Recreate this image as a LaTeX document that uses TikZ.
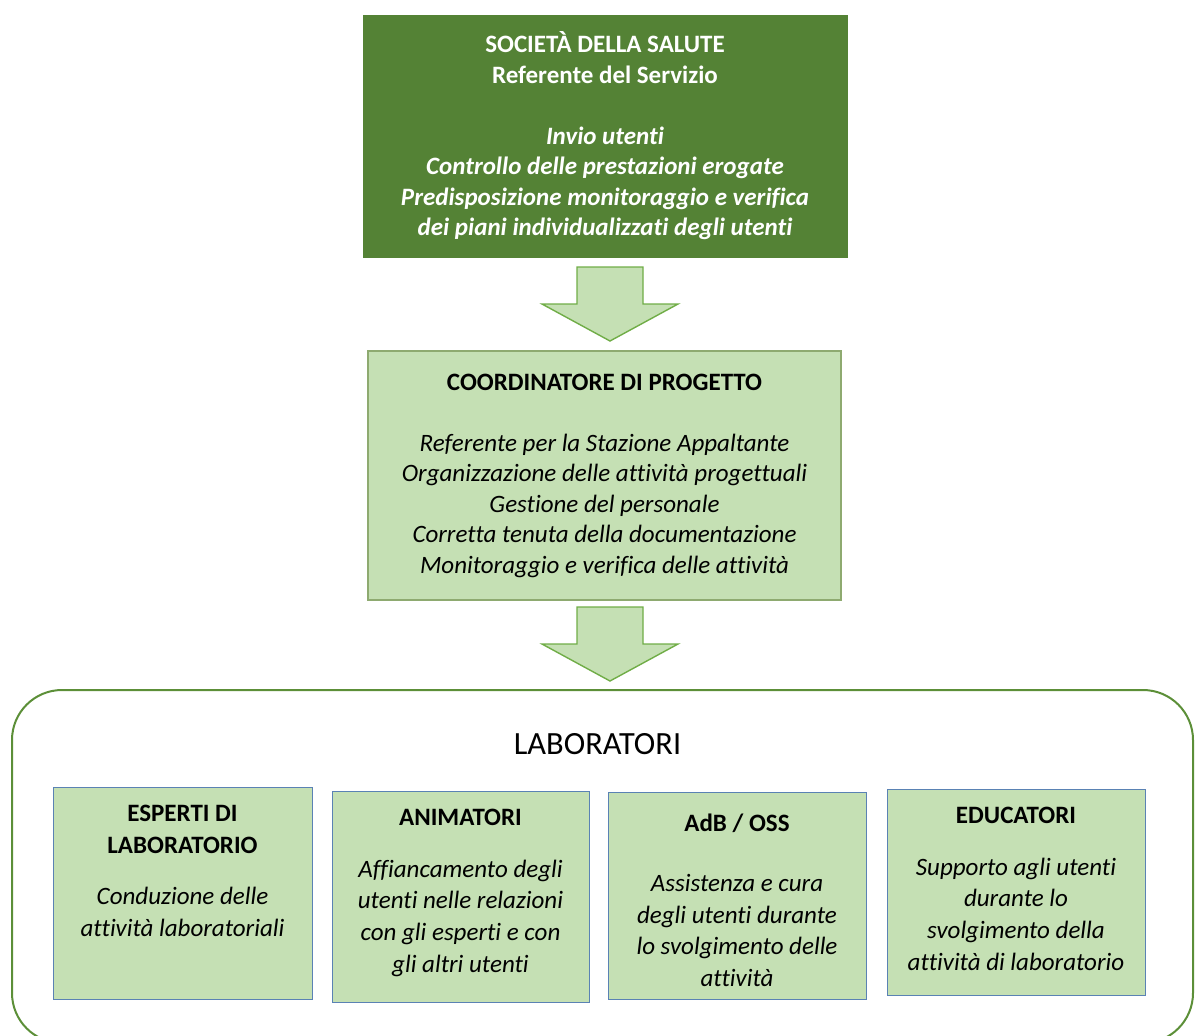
\documentclass[tikz,border=0pt]{standalone}
\usepackage{fontspec}
\setmainfont{Carlito}[Ligatures=NoCommon]
\usetikzlibrary{positioning}
\definecolor{darkgreen}{HTML}{548235}
\definecolor{lightgreen}{HTML}{C5E0B4}
\definecolor{arrowline}{HTML}{70AD47}
\definecolor{coordline}{HTML}{8EAA70}
\definecolor{boxline}{HTML}{5A82B4}
\definecolor{frameline}{HTML}{5C8F38}

\begin{document}
\begin{tikzpicture}[x=0.5pt,y=-0.5pt,
txt/.style={font=\fontsize{12.5}{15.25}\selectfont},
topbox/.style={draw=darkgreen,fill=darkgreen,text=white,minimum width=242pt,minimum height=121pt,align=center,txt},
coordbox/.style={draw=coordline,line width=0.6pt,fill=lightgreen,minimum width=236.5pt,minimum height=124.5pt,align=center,txt},
labbox/.style={draw=boxline,line width=0.5pt,fill=lightgreen,minimum width=129pt},
labtext/.style={inner sep=0pt,text width=125pt,align=flush center,font=\fontsize{12.5}{15.9}\selectfont},
bigarrow/.style={draw=arrowline,line width=0.7pt,fill=lightgreen,line join=miter},
frame/.style={draw=frameline,line width=1pt,rounded corners=25pt}]
\useasboundingbox (0,0) rectangle (1195,1035);
\clip (0,0) rectangle (1195,1035);

% vertici
\node (soc) [topbox] at (605,136) {\textbf{SOCIETÀ DELLA SALUTE}\\
    \textbf{Referente del Servizio}\\[15.25pt]
    \textbf{\textit{Invio utenti}}\\
    \textbf{\textit{Controllo delle prestazioni erogate}}\\
    \textbf{\textit{Predisposizione monitoraggio e verifica}}\\
    \textbf{\textit{dei piani individualizzati degli utenti}}};
\node (coord) [coordbox] at (604.5,475.5) {\textbf{COORDINATORE DI PROGETTO}\\[15.25pt]
    \textit{Referente per la Stazione Appaltante}\\
    \textit{Organizzazione delle attività progettuali}\\
    \textit{Gestione del personale}\\
    \textit{Corretta tenuta della documentazione}\\
    \textit{Monitoraggio e verifica delle attività}};

% frecce
\foreach \ytop in {267,607}
    \draw[bigarrow] (577,\ytop) -- (643,\ytop) -- (643,\ytop+37) -- (678,\ytop+37)
        -- (610,\ytop+74) -- (542,\ytop+37) -- (577,\ytop+37) -- cycle;

% laboratori
\draw[frame] (12,690) rectangle (1193,1043);
\node (labtitle) [font=\fontsize{16.2}{19}\selectfont] at (597.5,744) {LABORATORI};

\node (esp) [labbox,minimum width=129.5pt,minimum height=106pt] at (182.5,893) {};
\node (anim) [labbox,minimum width=128.5pt,minimum height=105.5pt] at (460.5,896.5) {};
\node (adb) [labbox,minimum height=103.5pt] at (737,895.5) {};
\node (edu) [labbox,minimum height=103pt] at (1016,892) {};

\node (esptxt) [labtext,below=9pt of esp.north] {\textbf{ESPERTI DI}\\
    \textbf{LABORATORIO}\\[10pt]
    \textit{Conduzione delle}\\
    \textit{attività laboratoriali}};
\node (animtxt) [labtext,below=9pt of anim.north] {\textbf{ANIMATORI}\\[10pt]
    \textit{Affiancamento degli}\\
    \textit{utenti nelle relazioni}\\
    \textit{con gli esperti e con}\\
    \textit{gli altri utenti}};
\node (adbtxt) [labtext,below=11pt of adb.north] {\textbf{AdB / OSS}\\[14pt]
    \textit{Assistenza e cura}\\
    \textit{degli utenti durante}\\
    \textit{lo svolgimento delle}\\
    \textit{attività}};
\node (edutxt) [labtext,below=9pt of edu.north] {\textbf{EDUCATORI}\\[10pt]
    \textit{Supporto agli utenti}\\
    \textit{durante lo}\\
    \textit{svolgimento della}\\
    \textit{attività di laboratorio}};
\end{tikzpicture}
\end{document}
